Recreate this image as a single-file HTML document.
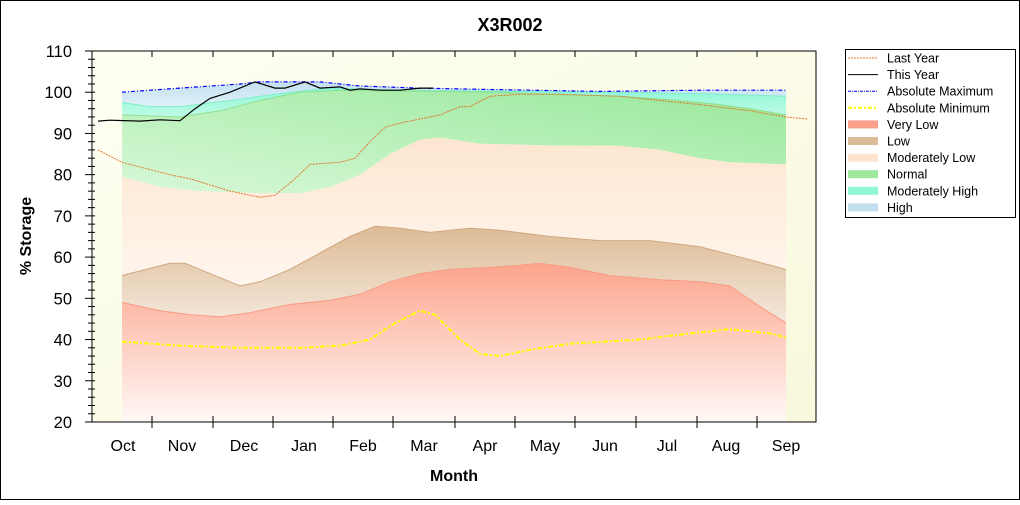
<!DOCTYPE html>
<html><head><meta charset="utf-8"><style>
body{margin:0;background:#fff;font-family:"Liberation Sans",Arial,sans-serif}
svg text{font-family:"Liberation Sans",Arial,sans-serif}
</style></head><body>
<svg id="s" width="1020" height="500" viewBox="0 0 1020 500" xmlns="http://www.w3.org/2000/svg">
<defs>
<linearGradient id="bg" x1="0" y1="0" x2="1" y2="1"><stop offset="0" stop-color="#fffff4"/><stop offset="1" stop-color="#f8f8dc"/></linearGradient>
<linearGradient id="gH" x1="0" y1="0" x2="0" y2="1"><stop offset="0" stop-color="#c4e0f0"/><stop offset="1" stop-color="#e0f0f8"/></linearGradient>
<linearGradient id="gMH" x1="0" y1="0" x2="0" y2="1"><stop offset="0" stop-color="#8ff7d6"/><stop offset="1" stop-color="#c0fbe6"/></linearGradient>
<linearGradient id="gN" x1="1" y1="0" x2="0" y2="1"><stop offset="0" stop-color="#98e89a"/><stop offset="1" stop-color="#d8f8d8"/></linearGradient>
<linearGradient id="gML" x1="0" y1="0" x2="0" y2="1"><stop offset="0" stop-color="#fde6d0"/><stop offset="1" stop-color="#fff6ee"/></linearGradient>
<linearGradient id="gL" x1="0" y1="0" x2="0" y2="1"><stop offset="0" stop-color="#ddbb95"/><stop offset="1" stop-color="#f4e8dc"/></linearGradient>
<linearGradient id="gVL" x1="0" y1="0" x2="0" y2="1"><stop offset="0" stop-color="#fda48c"/><stop offset="1" stop-color="#fff8f6"/></linearGradient>
</defs>
<rect x="0.5" y="0.5" width="1019" height="499" fill="#fff" stroke="#000"/>
<rect x="92" y="51" width="724" height="371" fill="url(#bg)"/>
<g id="bands"></g>
<g id="lines"></g>
<g id="axes"></g>
<text x="510" y="31" font-size="18" font-weight="bold" text-anchor="middle">X3R002</text>
<text x="454" y="481" font-size="16" font-weight="bold" text-anchor="middle">Month</text>
<text transform="translate(31,236) rotate(-90)" font-size="16" font-weight="bold" text-anchor="middle">% Storage</text>
<rect x="845.5" y="49.5" width="170" height="168" fill="#fff" stroke="#000"/>
<g font-size="12.5" id="leg"></g>
</svg>
<script>
const Y=v=>51+(110-v)*4.122;
const P=a=>a.map(p=>[p[0],Y(p[1])]);
const amax=[[122,100],[180,101],[240,102],[260,102.5],[320,102.5],[360,101.5],[420,101],[480,100.7],[600,100.2],[700,100.5],[786,100.5]];
const mh=[[122,97.5],[150,96.5],[180,96.5],[230,98],[290,100],[330,101],[400,100.5],[600,100],[700,99.7],[786,99]];
const nt=[[122,94.5],[180,94],[220,95.5],[260,98],[300,100],[340,100.5],[500,100],[550,99.5],[620,99],[680,98],[720,97],[750,96],[786,94.5]];
const ml=[[122,79.5],[160,77],[200,76],[260,75.5],[300,75.5],[330,77],[360,80],[390,85],[420,88.5],[440,89],[480,87.5],[560,87],[620,87],[660,86],[700,84],[730,83],[786,82.5]];
const lo=[[122,55.5],[170,58.5],[185,58.5],[220,55],[240,53],[260,54],[290,57],[320,61],[350,65],[375,67.5],[400,67],[430,66],[470,67],[500,66.5],[550,65],[600,64],[650,64],[700,62.5],[740,60],[786,57]];
const vl=[[122,49],[160,47],[190,46],[220,45.5],[250,46.5],[290,48.5],[330,49.5],[360,51],[390,54],[420,56],[450,57],[490,57.5],[520,58],[540,58.5],[570,57.5],[610,55.5],[660,54.5],[700,54],[730,53],[760,48],[786,44]];
const amin=[[122,39.5],[180,38.5],[240,38],[300,38],[340,38.5],[370,40],[395,44],[420,47],[435,46],[460,40],[480,36.5],[500,36],[530,37.5],[570,39],[640,40],[690,41.5],[730,42.5],[770,41.5],[786,40.5]];
const ly=[[98,86],[122,83],[170,80],[190,79],[230,76],[260,74.5],[275,75],[295,79],[310,82.5],[340,83],[355,84],[370,88],[385,91.5],[400,92.5],[420,93.5],[440,94.5],[460,96.5],[470,96.5],[490,99],[520,99.5],[560,99.5],[620,99],[660,98],[700,97],[750,95.5],[786,94],[808,93.5]];
const ty=[[98,93],[110,93.2],[140,93],[160,93.3],[180,93.1],[195,96],[210,98.5],[230,100],[255,102.5],[275,101],[285,101],[305,102.5],[320,101],[340,101.3],[350,100.5],[360,100.8],[380,100.5],[400,100.5],[420,101],[433,101]];
const pts=a=>P(a).map(p=>p[0].toFixed(1)+','+p[1].toFixed(1)).join(' ');
function band(top,bot,fill){const b=P(bot).reverse();return `<polygon points="${pts(top)} ${b.map(p=>p[0].toFixed(1)+','+p[1].toFixed(1)).join(' ')}" fill="${fill}"/>`;}
const floor=[[122,20],[786,20]];
let h='';
h+=band(amax,mh,'url(#gH)');h+=band(mh,nt,'url(#gMH)');h+=band(nt,ml,'url(#gN)');h+=band(ml,lo,'url(#gML)');h+=band(lo,vl,'url(#gL)');h+=band(vl,floor,'url(#gVL)');
h+=`<polyline points="${pts(mh)}" fill="none" stroke="#7ef0c8" stroke-width="1"/>`;
h+=`<polyline points="${pts(nt)}" fill="none" stroke="#8ee08e" stroke-width="1"/>`;
h+=`<polyline points="${pts(lo)}" fill="none" stroke="#d0a880" stroke-width="1"/>`;
h+=`<polyline points="${pts(vl)}" fill="none" stroke="#f89a84" stroke-width="1"/>`;
document.getElementById('bands').innerHTML=h;
let l='';
l+=`<polyline points="${pts(amax)}" fill="none" stroke="#0000ff" stroke-width="1.2" stroke-dasharray="4,2,1,2"/>`;
l+=`<polyline points="${pts(amin)}" fill="none" stroke="#ffff00" stroke-width="2" stroke-dasharray="5,2,2,2"/>`;
l+=`<polyline points="${pts(ly)}" fill="none" stroke="#e07830" stroke-width="1" stroke-dasharray="2,1"/>`;
l+=`<polyline points="${pts(ty)}" fill="none" stroke="#000" stroke-width="1.2"/>`;
document.getElementById('lines').innerHTML=l;
let a=`<rect x="92" y="51" width="724" height="371" fill="none" stroke="#000"/>`;
for(let v=20;v<=110;v+=2){const y=Y(v);if(v%10==0)a+=`<line x1="85" y1="${y}" x2="95" y2="${y}" stroke="#000"/><text x="72" y="${y+6}" font-size="16.5" text-anchor="end">${v}</text>`;else a+=`<line x1="88" y1="${y}" x2="95" y2="${y}" stroke="#000"/>`;}
[152,213,273,333,393,455,515,575,636,697,757].forEach(x=>{a+=`<line x1="${x}" y1="51" x2="${x}" y2="57" stroke="#000"/><line x1="${x}" y1="416" x2="${x}" y2="428" stroke="#000"/>`;});
const mn=['Oct','Nov','Dec','Jan','Feb','Mar','Apr','May','Jun','Jul','Aug','Sep'],mx=[123,182,244,304,363,424,485,545,605,667,726,786];
mn.forEach((m,i)=>a+=`<text x="${mx[i]}" y="451" font-size="16" text-anchor="middle">${m}</text>`);
document.getElementById('axes').innerHTML=a;
const lg=[['Last Year','line','#e07830','2,1',1],['This Year','line','#000','',1],['Absolute Maximum','line','#0000ff','3,1,1,1',1],['Absolute Minimum','line','#ffff00','4,2,2,2',2],['Very Low','box','#fca08c'],['Low','box','#dcbb98'],['Moderately Low','box','#fde4d0'],['Normal','box','#9ee89e'],['Moderately High','box','#8ff7d6'],['High','box','#c4e0f0']];
let g='';lg.forEach((e,i)=>{const y=58+i*16.6;if(e[1]=='line')g+=`<line x1="848" y1="${y}" x2="878" y2="${y}" stroke="${e[2]}" stroke-width="${e[4]}" stroke-dasharray="${e[3]}"/>`;else g+=`<rect x="848" y="${y-4}" width="30" height="8" fill="${e[2]}"/><line x1="848" y1="${y}" x2="878" y2="${y}" stroke="${e[2]}" stroke-width="1" opacity="0.8"/>`;g+=`<text x="887" y="${y+4.5}">${e[0]}</text>`;});
document.getElementById('leg').innerHTML=g;
</script>
</body></html>
